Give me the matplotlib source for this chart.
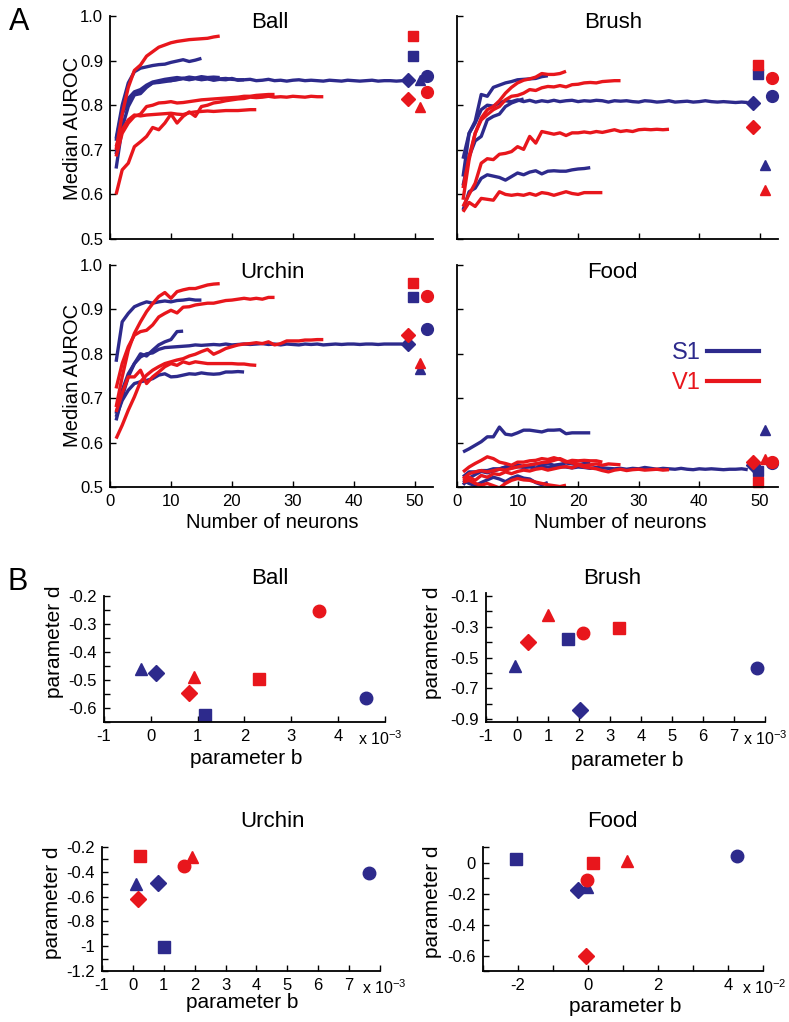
import matplotlib
matplotlib.use('Agg')
import matplotlib.pyplot as plt
from matplotlib.ticker import MultipleLocator

plt.rcParams['font.family'] = ['Liberation Sans', 'DejaVu Sans']
plt.rcParams['axes.unicode_minus'] = False
plt.rcParams['mathtext.fontset'] = 'custom'
plt.rcParams['mathtext.rm'] = 'Liberation Sans'

S1_COLOR = '#2d2a8c'
V1_COLOR = '#e8161c'

# marker order everywhere: square, diamond, triangle, circle
MARKERS = ['s', 'D', '^', 'o']

# ---- A: median AUROC vs number of neurons (one list per session) ----
ball_s1 = [
    [0.725, 0.80, 0.85, 0.875, 0.883, 0.886, 0.889, 0.891, 0.892, 0.896, 0.899, 0.902, 0.898, 0.901, 0.905],
    [0.658, 0.75, 0.797, 0.823, 0.826, 0.84, 0.85, 0.851, 0.853, 0.855, 0.857, 0.86, 0.858, 0.86, 0.857, 0.859,
     0.856, 0.858, 0.857, 0.86, 0.856, 0.857, 0.858, 0.855, 0.856, 0.858, 0.855, 0.856, 0.854, 0.856, 0.857, 0.855,
     0.856, 0.855, 0.854, 0.856, 0.855, 0.854, 0.856, 0.855, 0.854, 0.855, 0.856, 0.854, 0.855, 0.855, 0.854, 0.855],
    [0.69, 0.78, 0.81, 0.825, 0.832, 0.842, 0.85, 0.852, 0.856, 0.855, 0.858, 0.86, 0.857, 0.86, 0.858, 0.86,
     0.857, 0.859, 0.86, 0.858, 0.857, 0.857],
    [0.72, 0.79, 0.815, 0.83, 0.835, 0.845, 0.852, 0.855, 0.858, 0.86, 0.862, 0.86, 0.863, 0.861, 0.864, 0.862,
     0.863, 0.862],
]
ball_v1 = [
    [0.70, 0.78, 0.84, 0.878, 0.89, 0.91, 0.92, 0.93, 0.935, 0.94, 0.943, 0.945, 0.947, 0.948, 0.949, 0.95,
     0.953, 0.955],
    [0.60, 0.655, 0.67, 0.707, 0.718, 0.73, 0.75, 0.745, 0.76, 0.78, 0.76, 0.775, 0.785, 0.775, 0.797, 0.80,
     0.805, 0.807, 0.81, 0.812, 0.814, 0.815, 0.818, 0.817, 0.818, 0.82, 0.818, 0.819, 0.818, 0.82, 0.819, 0.818,
     0.82, 0.819, 0.819],
    [0.685, 0.737, 0.76, 0.775, 0.78, 0.797, 0.80, 0.805, 0.806, 0.808, 0.805, 0.806, 0.808, 0.81, 0.812, 0.813,
     0.814, 0.815, 0.816, 0.817, 0.818, 0.82, 0.82, 0.822, 0.823, 0.824, 0.824],
    [0.707, 0.745, 0.767, 0.778, 0.776, 0.778, 0.779, 0.78, 0.781, 0.782, 0.78, 0.779, 0.783, 0.785, 0.786, 0.787,
     0.786, 0.787, 0.788, 0.788, 0.788, 0.789, 0.79, 0.79],
]
ball_s1_all = [0.91, 0.857, 0.857, 0.865]
ball_v1_all = [0.955, 0.815, 0.795, 0.83]

brush_s1 = [
    [0.68, 0.737, 0.764, 0.824, 0.82, 0.84, 0.845, 0.85, 0.853, 0.857, 0.858, 0.859, 0.86, 0.864, 0.866],
    [0.64, 0.737, 0.76, 0.79, 0.80, 0.798, 0.805, 0.81, 0.808, 0.812, 0.808, 0.811, 0.807, 0.81, 0.808, 0.811,
     0.808, 0.81, 0.811, 0.808, 0.81, 0.809, 0.811, 0.81, 0.807, 0.81, 0.809, 0.81, 0.808, 0.807, 0.81, 0.809,
     0.807, 0.808, 0.81, 0.807, 0.808, 0.809, 0.807, 0.808, 0.81, 0.808, 0.807, 0.808, 0.807, 0.806, 0.807, 0.806],
    [0.565, 0.606, 0.614, 0.636, 0.644, 0.641, 0.638, 0.632, 0.64, 0.648, 0.644, 0.65, 0.653, 0.646, 0.652, 0.653,
     0.652, 0.652, 0.655, 0.657, 0.658, 0.66],
    [0.62, 0.685, 0.72, 0.73, 0.767, 0.775, 0.78, 0.797, 0.805, 0.81, 0.814],
]
brush_v1 = [
    [0.614, 0.685, 0.737, 0.771, 0.79, 0.797, 0.81, 0.827, 0.84, 0.85, 0.856, 0.859, 0.863, 0.871, 0.869, 0.869,
     0.871, 0.876],
    [0.588, 0.678, 0.737, 0.767, 0.779, 0.79, 0.797, 0.812, 0.82, 0.822, 0.827, 0.835, 0.833, 0.839, 0.842, 0.841,
     0.844, 0.841, 0.846, 0.847, 0.85, 0.851, 0.85, 0.853, 0.854, 0.855, 0.855],
    [0.573, 0.60, 0.625, 0.67, 0.68, 0.678, 0.69, 0.692, 0.696, 0.707, 0.701, 0.73, 0.715, 0.741, 0.738, 0.735,
     0.738, 0.732, 0.738, 0.738, 0.74, 0.738, 0.741, 0.739, 0.742, 0.745, 0.741, 0.743, 0.741, 0.745, 0.746, 0.745,
     0.746, 0.745, 0.746],
    [0.561, 0.582, 0.573, 0.591, 0.589, 0.587, 0.606, 0.6, 0.598, 0.6, 0.598, 0.602, 0.598, 0.604, 0.602, 0.598,
     0.602, 0.606, 0.602, 0.6, 0.604, 0.604, 0.604, 0.604],
]
brush_s1_all = [0.87, 0.805, 0.665, 0.82]
brush_v1_all = [0.89, 0.75, 0.61, 0.86]

urchin_s1 = [
    [0.782, 0.872, 0.891, 0.906, 0.912, 0.917, 0.914, 0.917, 0.919, 0.917, 0.92, 0.921, 0.923, 0.921, 0.921],
    [0.65, 0.703, 0.748, 0.778, 0.80, 0.795, 0.808, 0.82, 0.827, 0.832, 0.85, 0.851],
    [0.665, 0.718, 0.755, 0.778, 0.793, 0.80, 0.802, 0.81, 0.814, 0.815, 0.816, 0.817, 0.818, 0.82, 0.819, 0.82,
     0.821, 0.82, 0.822, 0.82, 0.821, 0.822, 0.821, 0.822, 0.823, 0.821, 0.822, 0.82, 0.822, 0.821, 0.82, 0.822,
     0.821, 0.822, 0.82, 0.821, 0.822, 0.821, 0.822, 0.822, 0.821, 0.822, 0.822, 0.821, 0.822, 0.822, 0.822, 0.822],
    [0.658, 0.695, 0.718, 0.733, 0.737, 0.74, 0.744, 0.752, 0.755, 0.748, 0.749, 0.752, 0.755, 0.754, 0.757, 0.755,
     0.754, 0.755, 0.759, 0.759, 0.76, 0.759],
]
urchin_v1 = [
    [0.68, 0.748, 0.808, 0.846, 0.872, 0.895, 0.913, 0.929, 0.938, 0.925, 0.94, 0.944, 0.947, 0.947, 0.951, 0.955,
     0.957, 0.958],
    [0.722, 0.778, 0.816, 0.842, 0.85, 0.853, 0.865, 0.883, 0.891, 0.898, 0.892, 0.905, 0.906, 0.91, 0.912, 0.914,
     0.914, 0.917, 0.92, 0.921, 0.923, 0.925, 0.923, 0.925, 0.923, 0.927, 0.927],
    [0.609, 0.639, 0.673, 0.703, 0.737, 0.752, 0.763, 0.771, 0.778, 0.782, 0.786, 0.789, 0.795, 0.799, 0.805, 0.81,
     0.799, 0.805, 0.812, 0.816, 0.82, 0.822, 0.823, 0.825, 0.823, 0.827, 0.82, 0.823, 0.829, 0.829, 0.829, 0.831,
     0.831, 0.832, 0.832],
    [0.669, 0.711, 0.748, 0.748, 0.763, 0.733, 0.748, 0.759, 0.771, 0.778, 0.774, 0.782, 0.778, 0.782, 0.78, 0.778,
     0.778, 0.778, 0.778, 0.778, 0.777, 0.777, 0.775, 0.774],
]
urchin_s1_all = [0.929, 0.822, 0.765, 0.855]
urchin_v1_all = [0.959, 0.842, 0.78, 0.93]

food_s1 = [
    [0.579, 0.586, 0.594, 0.602, 0.613, 0.613, 0.635, 0.619, 0.617, 0.622, 0.628, 0.628, 0.626, 0.624, 0.628, 0.628,
     0.629, 0.62, 0.622, 0.622, 0.622, 0.622],
    [0.523, 0.534, 0.534, 0.537, 0.537, 0.541, 0.541, 0.545, 0.543, 0.546, 0.544, 0.545, 0.543, 0.546, 0.545, 0.544,
     0.546, 0.545, 0.543, 0.545, 0.544, 0.542, 0.544, 0.543, 0.542, 0.541, 0.542, 0.54, 0.542, 0.541, 0.544, 0.542,
     0.54, 0.542, 0.541, 0.54, 0.542, 0.54, 0.539, 0.541, 0.54, 0.541, 0.54, 0.539, 0.54, 0.54, 0.541, 0.539],
    [0.505, 0.52, 0.528, 0.535, 0.532, 0.536, 0.54, 0.545, 0.548, 0.55, 0.546, 0.548, 0.552, 0.55, 0.553, 0.549,
     0.551, 0.554, 0.552, 0.55, 0.553, 0.555],
    [0.515, 0.508, 0.503, 0.51, 0.516, 0.522, 0.518, 0.512, 0.52, 0.525, 0.52, 0.518, 0.51, 0.505, 0.51],
]
food_v1 = [
    [0.534, 0.545, 0.553, 0.56, 0.568, 0.564, 0.556, 0.553, 0.549, 0.556, 0.556, 0.559, 0.56, 0.564, 0.562, 0.566,
     0.562, 0.556, 0.56, 0.559, 0.56, 0.559, 0.559, 0.556],
    [0.519, 0.53, 0.534, 0.537, 0.534, 0.537, 0.54, 0.538, 0.542, 0.545, 0.548, 0.55, 0.552, 0.555, 0.556, 0.56,
     0.564, 0.558, 0.554, 0.552, 0.548, 0.55, 0.552, 0.549, 0.552, 0.551, 0.55],
    [0.515, 0.522, 0.515, 0.526, 0.522, 0.53, 0.528, 0.534, 0.53, 0.535, 0.538, 0.536, 0.54, 0.542, 0.538, 0.541,
     0.544, 0.546, 0.543, 0.549, 0.545, 0.543, 0.541, 0.537, 0.534, 0.538, 0.54, 0.537, 0.539, 0.54, 0.538, 0.539,
     0.54, 0.538, 0.539],
    [0.511, 0.515, 0.508, 0.504, 0.508, 0.503, 0.498, 0.508, 0.515, 0.519, 0.516, 0.515, 0.511, 0.508, 0.505, 0.503,
     0.501, 0.504],
]
food_s1_all = [0.536, 0.549, 0.628, 0.553]
food_v1_all = [0.511, 0.556, 0.564, 0.556]

# ---- B: fitted parameters (b shown in units of the axis multiplier) ----
ball_b_s1 = [1.15, 0.1, -0.2, 4.6]
ball_d_s1 = [-0.625, -0.475, -0.46, -0.565]
ball_b_v1 = [2.32, 0.82, 0.93, 3.6]
ball_d_v1 = [-0.495, -0.545, -0.49, -0.255]

brush_b_s1 = [1.65, 2.03, -0.05, 7.75]
brush_d_s1 = [-0.38, -0.845, -0.555, -0.57]
brush_b_v1 = [3.3, 0.35, 1.0, 2.13]
brush_d_v1 = [-0.31, -0.40, -0.22, -0.34]

urchin_b_s1 = [1.0, 0.82, 0.1, 7.65]
urchin_d_s1 = [-1.01, -0.49, -0.5, -0.41]
urchin_b_v1 = [0.22, 0.17, 1.9, 1.66]
urchin_d_v1 = [-0.27, -0.62, -0.28, -0.35]

food_b_s1 = [-2.05, -0.3, -0.03, 4.25]
food_d_s1 = [0.02, -0.18, -0.16, 0.045]
food_b_v1 = [0.15, -0.05, 1.1, -0.03]
food_d_v1 = [0.0, -0.6, 0.01, -0.11]

# x position of the "all neurons" markers in panel A
ALL_X = [49.7, 48.9, 50.8, 52.0]

W, H = 789, 1022


def px_box(left, right, top, bottom):
    """pixel box -> figure fraction rect"""
    return [left / W, 1 - bottom / H, (right - left) / W, (bottom - top) / H]


def fig_text(fig, x, y, s, **kw):
    fig.text(x / W, 1 - y / H, s, **kw)


def style_axes(ax):
    for side in ('top', 'right'):
        ax.spines[side].set_visible(False)
    for side in ('left', 'bottom'):
        ax.spines[side].set_linewidth(1.3)
    ax.tick_params(direction='in', length=4, width=1, labelsize=12, pad=5)
    ax.tick_params(which='minor', direction='in', length=4, width=1)


def curves_panel(ax, s1, v1, s1_all, v1_all, xlabels, ylabels):
    for c in s1:
        ax.plot(range(1, len(c) + 1), c, color=S1_COLOR, lw=2.4, solid_capstyle='butt')
    for c in v1:
        ax.plot(range(1, len(c) + 1), c, color=V1_COLOR, lw=2.4, solid_capstyle='butt')
    for m, x, val in zip(MARKERS, ALL_X, s1_all):
        ax.plot(x, val, marker=m, color=S1_COLOR, ms=7.5 if m != 'o' else 8.5, ls='none', clip_on=False)
    for m, x, val in zip(MARKERS, ALL_X, v1_all):
        ax.plot(x, val, marker=m, color=V1_COLOR, ms=7.5 if m != 'o' else 8.5, ls='none', clip_on=False)
    ax.set_xlim(0, 53)
    ax.set_ylim(0.5, 1.0)
    ax.set_xticks([0, 10, 20, 30, 40, 50])
    ax.set_yticks([0.5, 0.6, 0.7, 0.8, 0.9, 1.0])
    style_axes(ax)
    if not xlabels:
        ax.set_xticklabels([])
    if not ylabels:
        ax.set_yticklabels([])


def param_panel(ax, b_s1, d_s1, b_v1, d_v1, xlim, ylim, xmaj, ymaj, ymin, mult, mult_x):
    for m, b, d in zip(MARKERS, b_s1, d_s1):
        ax.plot(b, d, marker=m, color=S1_COLOR, ms=8 if m != 'o' else 9, ls='none', clip_on=False)
    for m, b, d in zip(MARKERS, b_v1, d_v1):
        ax.plot(b, d, marker=m, color=V1_COLOR, ms=8 if m != 'o' else 9, ls='none', clip_on=False)
    ax.set_xlim(*xlim)
    ax.set_ylim(*ylim)
    ax.xaxis.set_major_locator(MultipleLocator(xmaj))
    ax.xaxis.set_minor_locator(MultipleLocator(1))
    ax.yaxis.set_major_locator(MultipleLocator(ymaj))
    ax.yaxis.set_minor_locator(MultipleLocator(ymin))
    ax.yaxis.set_major_formatter(plt.FuncFormatter(lambda v, p: fmt_num(v)))
    # no label on the tick at the right end, the multiplier sits there
    xmax = xlim[1]
    ax.xaxis.set_major_formatter(plt.FuncFormatter(lambda v, p: '' if v > xmax - 1e-6 else fmt_num(v)))
    style_axes(ax)
    ax.annotate('x 10$^{%s}$' % mult, xy=(mult_x, 0), xycoords='axes fraction',
                xytext=(0, -5), textcoords='offset points', ha='left', va='top', fontsize=11.5)


def fmt_num(v):
    s = '%g' % round(v, 4)
    if s == '-0':
        s = '0'
    return s


def plot():
    fig = plt.figure(figsize=(W / 100, H / 100), dpi=100)

    ax1 = fig.add_axes(px_box(110, 433, 16, 239))
    ax2 = fig.add_axes(px_box(457, 778, 16, 239))
    ax3 = fig.add_axes(px_box(110, 433, 265, 487))
    ax4 = fig.add_axes(px_box(457, 778, 265, 487))
    curves_panel(ax1, ball_s1, ball_v1, ball_s1_all, ball_v1_all, False, True)
    curves_panel(ax2, brush_s1, brush_v1, brush_s1_all, brush_v1_all, False, False)
    curves_panel(ax3, urchin_s1, urchin_v1, urchin_s1_all, urchin_v1_all, True, True)
    curves_panel(ax4, food_s1, food_v1, food_s1_all, food_v1_all, True, False)

    # S1 / V1 key, text on the left of the line
    h_s1 = plt.Line2D([], [], color=S1_COLOR, lw=3)
    h_v1 = plt.Line2D([], [], color=V1_COLOR, lw=3)
    ax4.legend([h_s1, h_v1], ['S1', 'V1'], markerfirst=False, frameon=False, labelcolor='linecolor',
               fontsize=17, handlelength=2.2, handletextpad=0.25, labelspacing=0.36,
               loc='center', bbox_to_anchor=(0.805, 0.535))

    fig_text(fig, 270, 22, 'Ball', fontsize=16, ha='center', va='center')
    fig_text(fig, 613, 22, 'Brush', fontsize=16, ha='center', va='center')
    fig_text(fig, 272, 272, 'Urchin', fontsize=16, ha='center', va='center')
    fig_text(fig, 612, 272, 'Food', fontsize=16, ha='center', va='center')
    fig_text(fig, 72, 128, 'Median AUROC', fontsize=14.5, rotation=90, ha='center', va='center')
    fig_text(fig, 72, 375, 'Median AUROC', fontsize=14.5, rotation=90, ha='center', va='center')
    fig_text(fig, 272, 522, 'Number of neurons', fontsize=14.5, ha='center', va='center')
    fig_text(fig, 620, 522, 'Number of neurons', fontsize=14.5, ha='center', va='center')

    bx1 = fig.add_axes(px_box(104, 385, 596, 722))
    bx2 = fig.add_axes(px_box(486, 765, 593, 722))
    bx3 = fig.add_axes(px_box(102, 380, 847, 971))
    bx4 = fig.add_axes(px_box(483, 763, 847, 971))
    param_panel(bx1, ball_b_s1, ball_d_s1, ball_b_v1, ball_d_v1, (-1, 5), (-0.65, -0.2), 1, 0.1, 0.05,
                '-3', 0.905)
    param_panel(bx2, brush_b_s1, brush_d_s1, brush_b_v1, brush_d_v1, (-1, 8), (-0.92, -0.08), 1, 0.2, 0.1,
                '-3', 0.92)
    param_panel(bx3, urchin_b_s1, urchin_d_s1, urchin_b_v1, urchin_d_v1, (-1, 8), (-1.2, -0.2), 1, 0.2, 0.1,
                '-3', 0.935)
    param_panel(bx4, food_b_s1, food_d_s1, food_b_v1, food_d_v1, (-3, 5), (-0.7, 0.1), 2, 0.2, 0.1,
                '-2', 0.925)
    bx2.yaxis.set_major_locator(plt.FixedLocator([-0.9, -0.7, -0.5, -0.3, -0.1]))

    fig_text(fig, 270, 578, 'Ball', fontsize=16, ha='center', va='center')
    fig_text(fig, 612, 578, 'Brush', fontsize=16, ha='center', va='center')
    fig_text(fig, 272, 821, 'Urchin', fontsize=16, ha='center', va='center')
    fig_text(fig, 612, 821, 'Food', fontsize=16, ha='center', va='center')
    for x, y in [(54, 642), (432, 643), (52, 903), (432, 902)]:
        fig_text(fig, x, y, 'parameter d', fontsize=15, rotation=90, ha='center', va='center')
    for x, y in [(246, 758), (627, 760), (242, 1002), (625, 1006)]:
        fig_text(fig, x, y, 'parameter b', fontsize=15, ha='center', va='center')

    fig_text(fig, 19, 22, 'A', fontsize=22, ha='center', va='center')
    fig_text(fig, 18, 582, 'B', fontsize=22, ha='center', va='center')

    fig.savefig('out.png', dpi=100)


plot()
